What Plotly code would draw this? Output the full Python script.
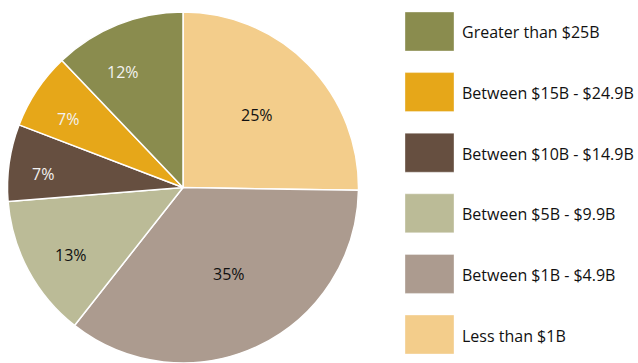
import math
import plotly.graph_objects as go

# Share of institutions by asset size (percent)
categories = [
    "Less than $1B",
    "Between $1B - $4.9B",
    "Between $5B - $9.9B",
    "Between $10B - $14.9B",
    "Between $15B - $24.9B",
    "Greater than $25B",
]
shares = [25, 35, 13, 7, 7, 12]
colors = ["#F3CD8B", "#AC9B8F", "#BBBB97", "#664F40", "#E6A719", "#8A8C4E"]
label_colors = ["#111111", "#111111", "#111111", "#F2F2F2", "#F2F2F2", "#F2F2F2"]
# Label placement: fraction of the radius and angular nudge (degrees) from slice middle
label_radius = [0.592, 0.557, 0.745, 0.804, 0.763, 0.742]
label_nudge = [0.0, -2.9, -2.9, -2.7, -2.8, -5.8]

# Legend order (top to bottom)
legend_order = list(reversed(range(len(categories))))

W, H = 638, 363
FONT = "Open Sans"

# Pie placement in pixels
dom_x = (6, 360)
dom_top = 12
cx = (dom_x[0] + dom_x[1]) / 2
diam = min(dom_x[1] - dom_x[0], H - dom_top)
cy = H - diam / 2
R = diam / 2

fig = go.Figure()

fig.add_trace(go.Pie(
    labels=categories,
    values=shares,
    sort=False,
    direction="clockwise",
    rotation=0,
    marker=dict(colors=colors, line=dict(color="white", width=1.5)),
    textinfo="none",
    domain=dict(x=[dom_x[0] / W, dom_x[1] / W], y=[0, 1 - dom_top / H]),
    showlegend=False,
    hoverinfo="label+percent",
))

annotations = []

# Percentage labels near the angular middle of each slice
total = sum(shares)
cum = 0
for i, v in enumerate(shares):
    mid = (cum + v / 2) / total * 360 + label_nudge[i]  # clockwise from 12 o'clock
    cum += v
    a = math.radians(mid)
    px = cx + label_radius[i] * R * math.sin(a)
    py = cy - label_radius[i] * R * math.cos(a)
    annotations.append(dict(
        xref="paper", yref="paper",
        x=px / W, y=1 - py / H,
        xanchor="center", yanchor="middle",
        text=f"{v}%", showarrow=False,
        font=dict(family=FONT, size=16, color=label_colors[i]),
    ))

# Custom legend: large colour swatches with labels
shapes = []
top0, step, sw_h, sw_w, sw_x = 12, 60.6, 39, 49, 405
for row, idx in enumerate(legend_order):
    y0 = top0 + row * step
    y1 = y0 + sw_h
    shapes.append(dict(
        type="rect", xref="paper", yref="paper",
        x0=sw_x / W, x1=(sw_x + sw_w) / W,
        y0=1 - y1 / H, y1=1 - y0 / H,
        fillcolor=colors[idx], line=dict(width=0.6, color="rgba(255,255,255,0.6)"),
        layer="above",
    ))
    annotations.append(dict(
        xref="paper", yref="paper",
        x=460 / W, y=1 - (y0 + sw_h / 2 + 1) / H,
        xanchor="left", yanchor="middle",
        text=categories[idx], showarrow=False,
        font=dict(family=FONT, size=16, color="#111111"),
    ))

fig.update_layout(
    width=W, height=H,
    margin=dict(l=0, r=0, t=0, b=0),
    paper_bgcolor="white",
    plot_bgcolor="white",
    shapes=shapes,
    annotations=annotations,
)

fig.write_html("out.html")
